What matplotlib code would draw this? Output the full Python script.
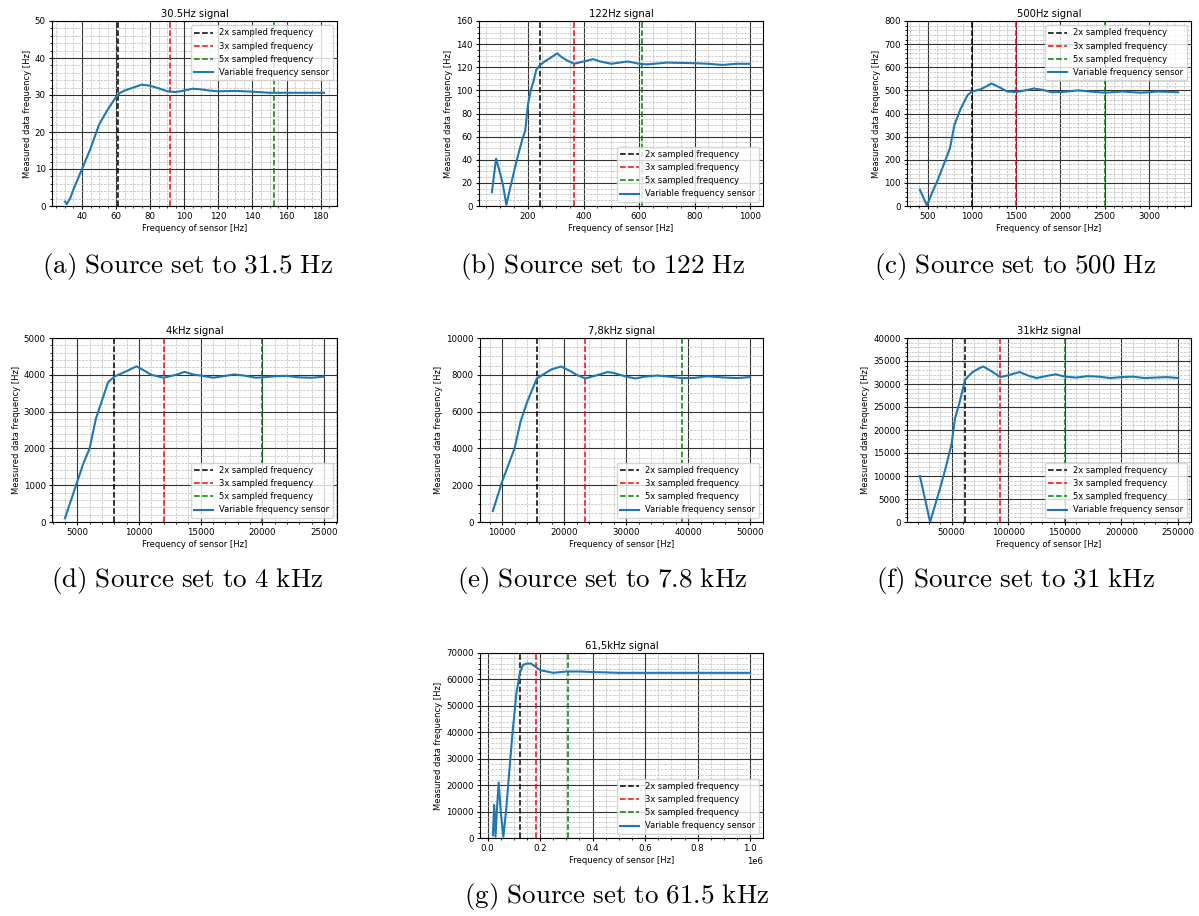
import matplotlib.pyplot as plt
from matplotlib.ticker import AutoMinorLocator

plt.rcParams['mathtext.fontset'] = 'cm'

# (a) 30.5 Hz signal
a_x = [30, 31, 33, 35, 40, 45, 50, 55, 60, 62, 65, 70, 75, 80, 85, 90, 95, 100,
       105, 110, 115, 120, 130, 140, 150, 160, 170, 182]
a_y = [1.2, 0.5, 2, 4.5, 10, 15.5, 22, 26, 29.5, 30.5, 31.2, 32, 32.8, 32.5, 31.8,
       31, 30.8, 31.2, 31.7, 31.5, 31.2, 31, 31.1, 30.9, 30.6, 30.6, 30.6, 30.6]
a_lines = [61, 91.5, 152.5]

# (b) 122 Hz signal
b_x = [70, 85, 100, 110, 122, 140, 160, 180, 190, 200, 210, 220, 230, 244, 260, 280,
       305, 320, 340, 366, 400, 435, 460, 500, 530, 560, 600, 630, 700, 800, 850,
       900, 950, 1000]
b_y = [12, 41, 28, 18, 1, 20, 40, 58, 65, 88, 100, 108, 118, 122, 125, 128, 132,
       129, 126, 123, 125, 127, 125, 123, 124, 125, 123, 122.5, 124, 123.5, 123,
       122, 123, 123]
b_lines = [244, 366, 610]

# (c) 500 Hz signal
c_x = [410, 490, 550, 620, 680, 750, 800, 870, 950, 1000, 1100, 1150, 1220, 1300,
       1400, 1500, 1600, 1700, 1800, 1900, 2000, 2100, 2200, 2300, 2500, 2700, 2900,
       3000, 3100, 3330]
c_y = [70, 2, 60, 120, 180, 250, 350, 420, 480, 495, 505, 515, 530, 515, 495, 493,
       500, 508, 502, 492, 493, 496, 500, 496, 490, 495, 490, 492, 495, 492]
c_lines = [1000, 1500, 2500]

# (d) 4 kHz signal
d_x = [4000, 5000, 5500, 6000, 6500, 7000, 7500, 8000, 9000, 9800, 10500, 11000,
       12000, 13000, 13700, 14500, 15000, 16000, 17000, 17700, 18500, 19500, 20000,
       21000, 22000, 23000, 24000, 25000]
d_y = [100, 1100, 1600, 2000, 2800, 3300, 3800, 3950, 4100, 4230, 4100, 4000, 3920,
       4000, 4080, 4000, 3980, 3920, 3970, 4010, 3980, 3920, 3930, 3960, 3970, 3930,
       3920, 3950]
d_lines = [8000, 12000, 20000]

# (e) 7.8 kHz signal
e_x = [8500, 10000, 12000, 13000, 14000, 15600, 17000, 18000, 19500, 21000, 22000,
       23400, 25000, 27000, 28000, 30000, 31500, 33000, 35000, 37000, 39000, 41000,
       43000, 44000, 46000, 48000, 50000]
e_y = [600, 2200, 4000, 5500, 6500, 7800, 8100, 8300, 8450, 8200, 8000, 7800, 7950,
       8150, 8100, 7900, 7800, 7900, 7960, 7900, 7820, 7830, 7920, 7900, 7850, 7820,
       7880]
e_lines = [15600, 23400, 39000]

# (f) 31 kHz signal
f_x = [22000, 31000, 40000, 45000, 50000, 53000, 57000, 62000, 68000, 75000, 78000,
       85000, 93000, 100000, 110000, 118000, 125000, 135000, 142000, 150000, 160000,
       170000, 180000, 190000, 200000, 210000, 220000, 230000, 240000, 250000]
f_y = [10000, 0, 7500, 12000, 17000, 22500, 26000, 31000, 32500, 33500, 33800, 32800,
       31500, 31900, 32600, 31800, 31300, 31800, 32100, 31600, 31400, 31700, 31600,
       31300, 31500, 31600, 31300, 31400, 31500, 31300]
f_lines = [62000, 93000, 150000]

# (g) 61.5 kHz signal
g_x = [20000, 25000, 30000, 35000, 42000, 50000, 60000, 70000, 80000, 95000, 110000,
       123000, 135000, 150000, 165000, 180000, 200000, 250000, 300000, 350000,
       400000, 500000, 600000, 800000, 1000000]
g_y = [1000, 12500, 500, 10000, 21000, 10000, 500, 10000, 22000, 40000, 55000, 62500,
       65500, 66000, 66000, 65000, 63500, 62500, 63000, 63000, 62800, 62500, 62500,
       62500, 62500]
g_lines = [123000, 184500, 307500]

titles = ["30.5Hz signal", "122Hz signal", "500Hz signal", "4kHz signal",
          "7,8kHz signal", "31kHz signal", "61,5kHz signal"]
captions = ["(a)\\ Source\\ set\\ to\\ 31.5\\ Hz", "(b)\\ Source\\ set\\ to\\ 122\\ Hz",
            "(c)\\ Source\\ set\\ to\\ 500\\ Hz", "(d)\\ Source\\ set\\ to\\ 4\\ kHz",
            "(e)\\ Source\\ set\\ to\\ 7.8\\ kHz", "(f)\\ Source\\ set\\ to\\ 31\\ kHz",
            "(g)\\ Source\\ set\\ to\\ 61.5\\ kHz"]
ylims = [50, 160, 800, 5000, 10000, 40000, 70000]
legend_locs = ["upper right", "lower right", "upper right", "lower right",
               "lower right", "lower right", "lower right"]

W, H = 1199, 916
fig = plt.figure(figsize=(W / 100, H / 100), dpi=100)

# pixel boxes (left, top, right, bottom)
boxes = [(52, 21, 337, 206), (479, 21, 763, 206), (907, 21, 1191, 206),
         (52, 338, 337, 522), (480, 338, 763, 522), (907, 338, 1191, 522),
         (480, 653, 763, 838)]
caption_pos = [(187, 266), (602, 266), (1015, 266), (187, 580), (602, 580),
               (1015, 580), (617, 897)]

xs = [a_x, b_x, c_x, d_x, e_x, f_x, g_x]
ys = [a_y, b_y, c_y, d_y, e_y, f_y, g_y]
vls = [a_lines, b_lines, c_lines, d_lines, e_lines, f_lines, g_lines]

for i in range(7):
    l, t, r, b = boxes[i]
    ax = fig.add_axes([l / W, 1 - b / H, (r - l) / W, (b - t) / H])
    ax.axvline(vls[i][0], color='black', ls='--', lw=1.1, label='2x sampled frequency')
    ax.axvline(vls[i][1], color='red', ls='--', lw=1.1, label='3x sampled frequency')
    ax.axvline(vls[i][2], color='green', ls='--', lw=1.1, label='5x sampled frequency')
    ax.plot(xs[i], ys[i], color='tab:blue', lw=1.5, label='Variable frequency sensor')
    ax.set_ylim(0, ylims[i])
    ax.xaxis.set_minor_locator(AutoMinorLocator())
    ax.yaxis.set_minor_locator(AutoMinorLocator())
    ax.grid(which='major', color='#333333', lw=0.8)
    ax.grid(which='minor', color='#bbbbbb', ls='--', lw=0.5)
    ax.set_axisbelow(True)
    ax.set_title(titles[i], fontsize=7.2, pad=3)
    ax.set_xlabel("Frequency of sensor [Hz]", fontsize=6, labelpad=2)
    ax.set_ylabel("Measured data frequency [Hz]", fontsize=6, labelpad=2)
    ax.tick_params(labelsize=6.2, length=2.5, pad=2)
    ax.tick_params(which='minor', length=1.5)
    ax.xaxis.get_offset_text().set_fontsize(6)
    ax.legend(loc=legend_locs[i], fontsize=6, handlelength=2.2)
    cx, cy = caption_pos[i]
    fig.text(cx / W, 1 - cy / H, "$\\mathrm{" + captions[i] + "}$", fontsize=19.5,
             ha='center', va='center')

fig.savefig("out.png", dpi=100)
